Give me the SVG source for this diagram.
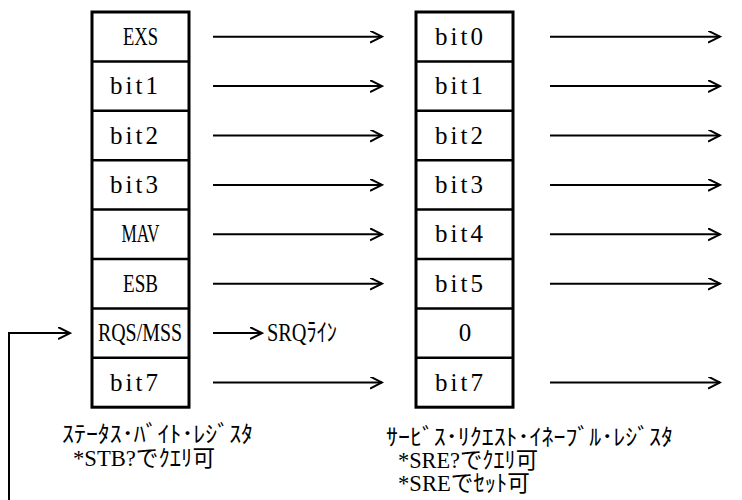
<svg xmlns="http://www.w3.org/2000/svg" width="742" height="500" viewBox="0 0 742 500">
<defs>
<marker id="arr" markerUnits="userSpaceOnUse" markerWidth="14" markerHeight="14" refX="12" refY="6" orient="auto" viewBox="0 0 14 14">
<path d="M0,0 L12,6 L0,12" fill="none" stroke="#000" stroke-width="2"/>
</marker>
</defs>
<style>
.box{fill:#fff;stroke:#000;stroke-width:3}
.div{stroke:#000;stroke-width:2.5}
.c{text-anchor:middle}
.con{stroke:#000;stroke-width:2;fill:none}
</style>
<rect x="0" y="0" width="742" height="500" fill="#fff"/>

<g id="status-byte-register" font-family="Liberation Serif, serif" font-size="25">
<rect class="box" x="92" y="12" width="97" height="395.2"/>
<line class="div" x1="92" y1="61.4" x2="189" y2="61.4"/>
<line class="div" x1="92" y1="110.8" x2="189" y2="110.8"/>
<line class="div" x1="92" y1="160.2" x2="189" y2="160.2"/>
<line class="div" x1="92" y1="209.6" x2="189" y2="209.6"/>
<line class="div" x1="92" y1="259" x2="189" y2="259"/>
<line class="div" x1="92" y1="308.4" x2="189" y2="308.4"/>
<line class="div" x1="92" y1="357.8" x2="189" y2="357.8"/>
<g id="stb-exs"><text class="c" x="140.5" y="45" textLength="35" lengthAdjust="spacingAndGlyphs">EXS</text></g>
<g id="stb-bit1"><text x="110" y="94" textLength="48" lengthAdjust="spacing">bit1</text></g>
<g id="stb-bit2"><text x="110" y="143.5" textLength="48" lengthAdjust="spacing">bit2</text></g>
<g id="stb-bit3"><text x="110" y="193" textLength="48" lengthAdjust="spacing">bit3</text></g>
<g id="stb-mav"><text class="c" x="140.5" y="242.3" textLength="38" lengthAdjust="spacingAndGlyphs">MAV</text></g>
<g id="stb-esb"><text class="c" x="140.5" y="291.7" textLength="35" lengthAdjust="spacingAndGlyphs">ESB</text></g>
<g id="stb-rqs"><text class="c" x="140" y="341.1" textLength="84" lengthAdjust="spacingAndGlyphs">RQS/MSS</text></g>
<g id="stb-bit7"><text x="110" y="390.5" textLength="48" lengthAdjust="spacing">bit7</text></g>
</g>

<g id="service-request-enable-register" font-family="Liberation Serif, serif" font-size="25">
<rect class="box" x="416" y="12" width="97" height="395.2"/>
<line class="div" x1="416" y1="61.4" x2="513" y2="61.4"/>
<line class="div" x1="416" y1="110.8" x2="513" y2="110.8"/>
<line class="div" x1="416" y1="160.2" x2="513" y2="160.2"/>
<line class="div" x1="416" y1="209.6" x2="513" y2="209.6"/>
<line class="div" x1="416" y1="259" x2="513" y2="259"/>
<line class="div" x1="416" y1="308.4" x2="513" y2="308.4"/>
<line class="div" x1="416" y1="357.8" x2="513" y2="357.8"/>
<g id="sre-bit0"><text x="435" y="45" textLength="48" lengthAdjust="spacing">bit0</text></g>
<g id="sre-bit1"><text x="435" y="94" textLength="48" lengthAdjust="spacing">bit1</text></g>
<g id="sre-bit2"><text x="435" y="143.5" textLength="48" lengthAdjust="spacing">bit2</text></g>
<g id="sre-bit3"><text x="435" y="193" textLength="48" lengthAdjust="spacing">bit3</text></g>
<g id="sre-bit4"><text x="435" y="242.3" textLength="48" lengthAdjust="spacing">bit4</text></g>
<g id="sre-bit5"><text x="435" y="291.7" textLength="48" lengthAdjust="spacing">bit5</text></g>
<g id="sre-zero"><text class="c" x="465" y="341.1">0</text></g>
<g id="sre-bit7"><text x="435" y="390.5" textLength="48" lengthAdjust="spacing">bit7</text></g>
</g>

<g id="srq-line-label" font-family="Liberation Serif, Noto Sans CJK JP, serif" font-size="25"><text x="267" y="341.1" textLength="70" lengthAdjust="spacingAndGlyphs">SRQﾗｲﾝ</text></g>

<g id="stb-caption" font-family="Liberation Serif, Noto Sans CJK JP, serif" font-size="23">
<text x="62" y="442" textLength="191" lengthAdjust="spacingAndGlyphs">ｽﾃｰﾀｽ･ﾊﾞｲﾄ･ﾚｼﾞｽﾀ</text>
<text x="73" y="466" textLength="142" lengthAdjust="spacingAndGlyphs">*STB?でｸｴﾘ可</text>
</g>
<g id="sre-caption" font-family="Liberation Serif, Noto Sans CJK JP, serif" font-size="23">
<text x="386" y="445" textLength="287" lengthAdjust="spacingAndGlyphs">ｻｰﾋﾞｽ･ﾘｸｴｽﾄ･ｲﾈｰﾌﾞﾙ･ﾚｼﾞｽﾀ</text>
<text x="398" y="468" textLength="140" lengthAdjust="spacingAndGlyphs">*SRE?でｸｴﾘ可</text>
<text x="398" y="491" textLength="132" lengthAdjust="spacingAndGlyphs">*SREでｾｯﾄ可</text>
</g>

<g id="connectors">
<line class="con" x1="213" y1="36.7" x2="382" y2="36.7" marker-end="url(#arr)"/>
<line class="con" x1="213" y1="86.1" x2="382" y2="86.1" marker-end="url(#arr)"/>
<line class="con" x1="213" y1="135.5" x2="382" y2="135.5" marker-end="url(#arr)"/>
<line class="con" x1="213" y1="184.9" x2="382" y2="184.9" marker-end="url(#arr)"/>
<line class="con" x1="213" y1="234.3" x2="382" y2="234.3" marker-end="url(#arr)"/>
<line class="con" x1="213" y1="283.7" x2="382" y2="283.7" marker-end="url(#arr)"/>
<line class="con" x1="213" y1="333.1" x2="262" y2="333.1" marker-end="url(#arr)"/>
<line class="con" x1="213" y1="382.5" x2="382" y2="382.5" marker-end="url(#arr)"/>
<line class="con" x1="550" y1="36.7" x2="720" y2="36.7" marker-end="url(#arr)"/>
<line class="con" x1="550" y1="86.1" x2="720" y2="86.1" marker-end="url(#arr)"/>
<line class="con" x1="550" y1="135.5" x2="720" y2="135.5" marker-end="url(#arr)"/>
<line class="con" x1="550" y1="184.9" x2="720" y2="184.9" marker-end="url(#arr)"/>
<line class="con" x1="550" y1="234.3" x2="720" y2="234.3" marker-end="url(#arr)"/>
<line class="con" x1="550" y1="283.7" x2="720" y2="283.7" marker-end="url(#arr)"/>
<line class="con" x1="550" y1="382.5" x2="720" y2="382.5" marker-end="url(#arr)"/>
<polyline class="con" stroke-width="2.5" points="9,500 9,333.1 70,333.1" marker-end="url(#arr)"/>
</g>
</svg>
